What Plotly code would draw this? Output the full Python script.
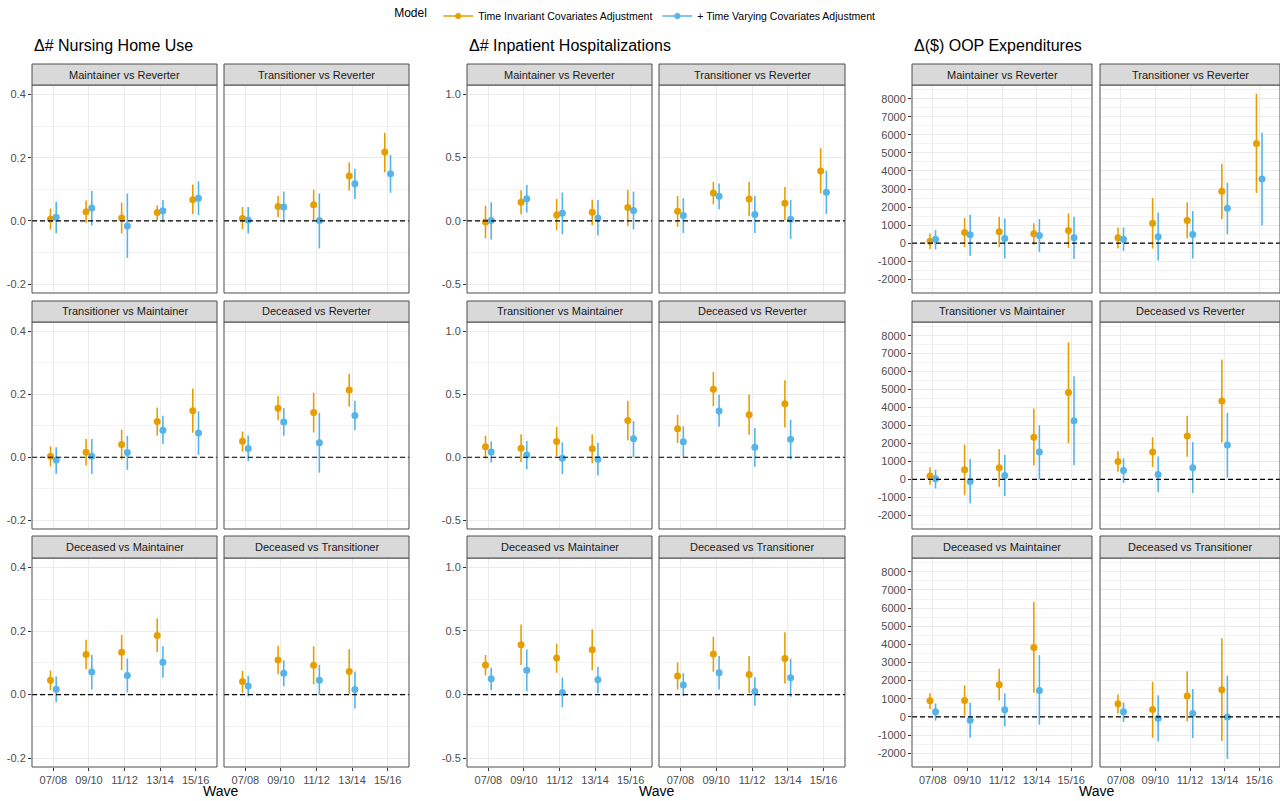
import plotly.graph_objects as go

W, H = 1280, 801

waves = ["07/08", "09/10", "11/12", "13/14", "15/16"]
comparisons = ["Maintainer vs Reverter", "Transitioner vs Reverter",
               "Transitioner vs Maintainer", "Deceased vs Reverter",
               "Deceased vs Maintainer", "Deceased vs Transitioner"]
outcome_titles = ["Δ# Nursing Home Use", "Δ# Inpatient Hospitalizations", "Δ($) OOP Expenditures"]
model_names = ["Time Invariant Covariates Adjustment", "+ Time Varying Covariates Adjustment"]
model_colors = ["#E69F00", "#56B4E9"]

# y tick values / labels per outcome
nh_ytickvals = [-0.2, 0.0, 0.2, 0.4]
nh_yticklabels = ["-0.2", "0.0", "0.2", "0.4"]
ip_ytickvals = [-0.5, 0.0, 0.5, 1.0]
ip_yticklabels = ["-0.5", "0.0", "0.5", "1.0"]
oop_ytickvals = [-2000, -1000, 0, 1000, 2000, 3000, 4000, 5000, 6000, 7000, 8000]
oop_yticklabels = ["-2000", "-1000", "0", "1000", "2000", "3000", "4000", "5000", "6000", "7000", "8000"]

# ---------------- Nursing home use ----------------
nh_inv_est = [[0.006, 0.029, 0.009, 0.027, 0.067],
              [0.008, 0.046, 0.051, 0.142, 0.218],
              [0.003, 0.016, 0.041, 0.114, 0.148],
              [0.051, 0.156, 0.142, 0.214, None],
              [0.045, 0.126, 0.133, 0.186, None],
              [0.041, 0.109, 0.092, 0.073, None]]
nh_inv_lo = [[-0.027, -0.006, -0.040, 0.002, 0.022],
             [-0.026, 0.012, 0.001, 0.096, 0.154],
             [-0.029, -0.026, -0.007, 0.069, 0.078],
             [0.018, 0.118, 0.079, 0.161, None],
             [0.014, 0.080, 0.077, 0.134, None],
             [0.006, 0.064, 0.032, 0.002, None]]
nh_inv_hi = [[0.039, 0.065, 0.058, 0.049, 0.115],
             [0.044, 0.080, 0.099, 0.185, 0.279],
             [0.035, 0.058, 0.088, 0.158, 0.219],
             [0.082, 0.194, 0.205, 0.265, None],
             [0.076, 0.173, 0.188, 0.240, None],
             [0.075, 0.154, 0.152, 0.143, None]]
nh_var_est = [[0.012, 0.041, -0.016, 0.032, 0.072],
              [0.003, 0.044, 0.001, 0.118, 0.149],
              [-0.009, 0.003, 0.015, 0.086, 0.077],
              [0.028, 0.112, 0.046, 0.133, None],
              [0.017, 0.071, 0.060, 0.102, None],
              [0.027, 0.067, 0.045, 0.016, None]]
nh_var_lo = [[-0.039, -0.015, -0.117, -0.004, 0.018],
             [-0.040, -0.005, -0.087, 0.069, 0.089],
             [-0.052, -0.053, -0.040, 0.042, 0.008],
             [-0.013, 0.068, -0.049, 0.086, None],
             [-0.023, 0.016, 0.007, 0.053, None],
             [-0.006, 0.026, -0.002, -0.044, None]]
nh_var_hi = [[0.061, 0.095, 0.087, 0.066, 0.125],
             [0.044, 0.093, 0.087, 0.165, 0.209],
             [0.032, 0.058, 0.068, 0.132, 0.146],
             [0.069, 0.156, 0.141, 0.180, None],
             [0.057, 0.125, 0.114, 0.152, None],
             [0.059, 0.108, 0.094, 0.073, None]]

# ---------------- Inpatient hospitalizations ----------------
ip_inv_est = [[-0.008, 0.147, 0.047, 0.068, 0.105],
              [0.076, 0.221, 0.174, 0.139, 0.395],
              [0.084, 0.071, 0.126, 0.068, 0.292],
              [0.226, 0.539, 0.337, 0.424, None],
              [0.232, 0.392, 0.287, 0.353, None],
              [0.145, 0.318, 0.158, 0.284, None]]
ip_inv_lo = [[-0.137, 0.053, -0.074, -0.034, -0.042],
             [-0.047, 0.132, 0.037, 0.005, 0.218],
             [-0.011, -0.037, 0.008, -0.047, 0.134],
             [0.113, 0.405, 0.179, 0.237, None],
             [0.150, 0.232, 0.171, 0.192, None],
             [0.039, 0.179, 0.013, 0.087, None]]
ip_inv_hi = [[0.121, 0.242, 0.174, 0.168, 0.247],
             [0.197, 0.308, 0.308, 0.268, 0.574],
             [0.171, 0.182, 0.242, 0.182, 0.447],
             [0.337, 0.676, 0.497, 0.611, None],
             [0.311, 0.550, 0.400, 0.513, None],
             [0.253, 0.453, 0.303, 0.489, None]]
ip_var_est = [[0.003, 0.176, 0.061, 0.024, 0.082],
              [0.042, 0.195, 0.050, 0.013, 0.226],
              [0.042, 0.018, -0.008, -0.016, 0.147],
              [0.124, 0.368, 0.079, 0.142, None],
              [0.124, 0.192, 0.016, 0.116, None],
              [0.076, 0.171, 0.024, 0.132, None]]
ip_var_lo = [[-0.147, 0.066, -0.105, -0.116, -0.068],
             [-0.095, 0.092, -0.095, -0.142, 0.055],
             [-0.042, -0.095, -0.134, -0.145, 0.000],
             [0.003, 0.242, -0.076, -0.016, None],
             [0.034, 0.026, -0.100, 0.013, None],
             [-0.013, 0.039, -0.087, -0.018, None]]
ip_var_hi = [[0.147, 0.284, 0.224, 0.166, 0.232],
             [0.179, 0.295, 0.197, 0.166, 0.397],
             [0.126, 0.129, 0.118, 0.116, 0.287],
             [0.245, 0.495, 0.232, 0.297, None],
             [0.211, 0.355, 0.134, 0.218, None],
             [0.168, 0.303, 0.137, 0.282, None]]

# ---------------- OOP expenditures ----------------
oop_inv_est = [[110, 590, 630, 520, 700],
               [300, 1110, 1260, 2870, 5520],
               [190, 540, 650, 2350, 4830],
               [1000, 1520, 2410, 4370, None],
               [890, 910, 1780, 3830, None],
               [720, 410, 1150, 1500, None]]
oop_inv_lo = [[-330, -220, -220, -90, -260],
              [-300, -300, 260, 1320, 2780],
              [-300, -870, -410, 780, 2020],
              [430, 690, 1260, 2060, None],
              [440, 70, 910, 1330, None],
              [190, -1150, -240, -1330, None]]
oop_inv_hi = [[540, 1390, 1460, 1110, 1650],
              [870, 2500, 2260, 4390, 8280],
              [670, 1930, 1690, 3940, 7630],
              [1570, 2350, 3540, 6670, None],
              [1300, 1740, 2650, 6330, None],
              [1240, 1940, 2520, 4330, None]]
oop_var_est = [[220, 460, 260, 430, 300],
               [220, 350, 480, 1930, 3560],
               [40, -110, 220, 1520, 3260],
               [500, 280, 650, 1910, None],
               [280, -190, 390, 1460, None],
               [280, -70, 190, 0, None]]
oop_var_lo = [[-350, -700, -850, -480, -870],
              [-440, -960, -850, 500, 980],
              [-500, -1320, -930, 0, 800],
              [-200, -720, -760, 90, None],
              [-200, -1150, -520, -430, None],
              [-280, -1350, -1170, -2320, None]]
oop_var_hi = [[740, 1570, 1370, 1330, 1460],
              [870, 1690, 1780, 3350, 6130],
              [540, 1130, 1370, 3020, 5740],
              [1170, 1280, 2070, 3700, None],
              [740, 780, 1300, 3410, None],
              [800, 1200, 1540, 2280, None]]

outcomes = [
    [(nh_inv_est, nh_inv_lo, nh_inv_hi), (nh_var_est, nh_var_lo, nh_var_hi)],
    [(ip_inv_est, ip_inv_lo, ip_inv_hi), (ip_var_est, ip_var_lo, ip_var_hi)],
    [(oop_inv_est, oop_inv_lo, oop_inv_hi), (oop_var_est, oop_var_lo, oop_var_hi)],
]
yticks = [(nh_ytickvals, nh_yticklabels), (ip_ytickvals, ip_yticklabels), (oop_ytickvals, oop_yticklabels)]

# ---------------- layout geometry (pixels) ----------------
group_cols = [[(32, 217), (224, 409)], [(467, 652), (659, 845)], [(912, 1092), (1100, 1280)]]
row_plot = [(85, 293), (322, 529), (558, 767)]
row_strip = [(64, 85), (301, 322), (536, 558)]
yranges = [[-0.228, 0.43], [-0.569, 1.073], [-2760, 8760]]
yminor = [0.1, 0.25, 500]
title_x = [32, 467, 912]
wave_x = [220, 656, 1096]
dodge = [-0.08, 0.08]

FONT = "Liberation Sans, Arial, Helvetica, sans-serif"
GRID = "#ebebeb"
BORDER = "#4d4d4d"


def px_x(p):
    return min(max(p / W, 0), 1)


def px_y(p):
    return min(max(1 - p / H, 0), 1)


fig = go.Figure()
layout = dict(
    width=W, height=H, margin=dict(l=0, r=0, t=0, b=0),
    plot_bgcolor="white", paper_bgcolor="white",
    font=dict(family=FONT, size=11, color="#4d4d4d"),
    showlegend=True,
    legend=dict(orientation="h", x=0.497, xanchor="center", y=1 - 16 / H, yanchor="middle",
                title=dict(text="Model ", side="left", font=dict(size=12, color="black")),
                font=dict(size=10.5, color="black"), itemwidth=30, bgcolor="rgba(0,0,0,0)"),
)
shapes = []
annotations = []

for g in range(3):
    tv, tt = yticks[g]
    for p in range(6):
        r, c = p // 2, p % 2
        n = g * 6 + p + 1
        sfx = "" if n == 1 else str(n)
        x0p, x1p = group_cols[g][c]
        y0p, y1p = row_plot[r]
        bottom = (r == 2)
        left = (c == 0)
        layout["xaxis" + sfx] = dict(
            domain=[px_x(x0p), px_x(x1p)], anchor="y" + sfx, range=[0.4, 5.6],
            tickmode="array", tickvals=[1, 2, 3, 4, 5], ticktext=waves,
            showgrid=True, gridcolor=GRID, gridwidth=1, zeroline=False, showline=False,
            showticklabels=bottom, ticks="outside" if bottom else "", ticklen=3,
            tickcolor="#333333", tickfont=dict(size=11, color="#4d4d4d"), fixedrange=True)
        layout["yaxis" + sfx] = dict(
            domain=[px_y(y1p), px_y(y0p)], anchor="x" + sfx, range=yranges[g],
            tickmode="array", tickvals=tv, ticktext=tt,
            minor=dict(showgrid=True, gridcolor="#f3f3f3", gridwidth=0.6, tickmode="linear",
                       tick0=0, dtick=yminor[g], ticks=""),
            showgrid=True, gridcolor=GRID, gridwidth=1, zeroline=False, showline=False,
            showticklabels=left, ticks="outside" if left else "", ticklen=3,
            tickcolor="#333333", tickfont=dict(size=11, color="#4d4d4d"), fixedrange=True)

        for m in range(2):
            est, lo, hi = outcomes[g][m]
            e, l, h = est[p], lo[p], hi[p]
            xs = [i + 1 + dodge[m] for i in range(len(waves))]
            plus = [None if v is None else hv - v for v, hv in zip(e, h)]
            minus = [None if v is None else v - lv for v, lv in zip(e, l)]
            fig.add_trace(go.Scatter(
                x=xs, y=e, mode="markers", xaxis="x" + sfx, yaxis="y" + sfx,
                marker=dict(color=model_colors[m], size=7),
                error_y=dict(type="data", symmetric=False, array=plus, arrayminus=minus,
                             color=model_colors[m], thickness=1.6, width=0),
                showlegend=False, hoverinfo="skip"))

        xref_dom = ("x" if n == 1 else "x" + sfx) + " domain"
        yref_dom = ("y" if n == 1 else "y" + sfx) + " domain"
        # zero reference line
        shapes.append(dict(type="line", xref=xref_dom, yref="y" + sfx, x0=0, x1=1, y0=0, y1=0,
                           line=dict(color="black", width=1.2, dash="5px,3px"), layer="above"))
        # panel border
        shapes.append(dict(type="rect", xref=xref_dom, yref=yref_dom, x0=0, x1=1, y0=0, y1=1,
                           line=dict(color=BORDER, width=1), layer="above"))
        # strip
        sy0, sy1 = row_strip[r]
        shapes.append(dict(type="rect", xref="paper", yref="paper",
                           x0=px_x(x0p), x1=px_x(x1p), y0=px_y(sy1), y1=px_y(sy0),
                           fillcolor="#d9d9d9", line=dict(color=BORDER, width=1), layer="above"))
        annotations.append(dict(text=comparisons[p], xref="paper", yref="paper",
                                x=px_x((x0p + x1p) / 2), y=px_y((sy0 + sy1) / 2),
                                xanchor="center", yanchor="middle", showarrow=False,
                                font=dict(size=11, color="#1a1a1a")))

    annotations.append(dict(text=outcome_titles[g], xref="paper", yref="paper",
                            x=px_x(title_x[g]), y=px_y(45), xanchor="left", yanchor="middle",
                            showarrow=False, font=dict(size=16, color="black")))
    annotations.append(dict(text="Wave", xref="paper", yref="paper",
                            x=px_x(wave_x[g]), y=px_y(791), xanchor="center", yanchor="middle",
                            showarrow=False, font=dict(size=14, color="black")))

# legend entries
for m in range(2):
    fig.add_trace(go.Scatter(x=[None], y=[None], mode="lines+markers", name=model_names[m],
                             marker=dict(color=model_colors[m], size=6),
                             line=dict(color=model_colors[m], width=1.5), xaxis="x", yaxis="y"))

layout["shapes"] = shapes
layout["annotations"] = annotations
fig.update_layout(**layout)
fig.write_html("out.html", config={"displayModeBar": False},
               post_script="document.body.style.margin='0';document.body.style.overflow='hidden';")
